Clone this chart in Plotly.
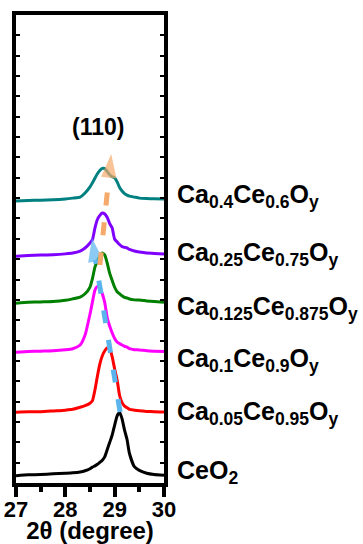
import plotly.graph_objects as go

# 2-theta grid (degrees) shared by all patterns
two_theta = [27.0, 27.25, 27.5, 27.75, 28.0, 28.15, 28.3, 28.4, 28.5, 28.55, 28.6, 28.65,
             28.7, 28.75, 28.8, 28.85, 28.9, 28.95, 29.0, 29.05, 29.1, 29.15, 29.2, 29.25,
             29.3, 29.4, 29.5, 29.65, 29.8, 30.0]

# offset intensities (a.u.)
ceo2 = [0.36, 0.40, 0.42, 0.45, 0.48, 0.50, 0.54, 0.60, 0.70, 0.78, 0.84, 0.92,
        1.02, 1.12, 1.30, 1.65, 2.00, 2.36, 2.85, 3.30, 3.48, 3.15, 2.60, 2.15,
        1.45, 0.80, 0.62, 0.48, 0.42, 0.38]
ca005 = [3.48, 3.50, 3.50, 3.54, 3.58, 3.62, 3.72, 3.80, 3.92, 4.05, 4.57, 5.25,
         5.85, 6.25, 6.50, 6.64, 6.62, 6.20, 5.60, 5.06, 4.30, 3.95, 3.78, 3.70,
         3.62, 3.58, 3.55, 3.52, 3.50, 3.49]
ca01 = [6.42, 6.46, 6.48, 6.50, 6.55, 6.60, 6.78, 7.27, 8.30, 8.90, 9.48, 9.66,
        9.62, 9.30, 8.85, 8.10, 7.70, 7.37, 7.10, 6.93, 6.85, 6.78, 6.72, 6.68,
        6.60, 6.55, 6.54, 6.50, 6.48, 6.46]
ca0125 = [8.84, 8.88, 8.90, 8.92, 8.98, 9.05, 9.14, 9.30, 9.63, 10.05, 10.61, 10.90,
          11.15, 11.30, 11.20, 10.80, 10.30, 9.95, 9.62, 9.40, 9.30, 9.20, 9.12, 9.09,
          9.04, 9.00, 8.99, 8.95, 8.92, 8.88]
ca025 = [11.14, 11.18, 11.20, 11.22, 11.26, 11.30, 11.40, 11.55, 11.80, 11.96, 12.53, 12.95,
         13.15, 13.27, 13.22, 13.05, 12.75, 12.53, 11.98, 11.85, 11.72, 11.62, 11.58, 11.55,
         11.48, 11.40, 11.35, 11.30, 11.28, 11.25]
ca04 = [13.86, 13.88, 13.90, 13.92, 13.96, 14.00, 14.05, 14.25, 14.55, 14.76, 14.98, 15.20,
        15.36, 15.46, 15.45, 15.30, 15.15, 15.05, 14.99, 14.80, 14.52, 14.35, 14.22, 14.15,
        14.10, 14.05, 14.00, 13.98, 13.97, 13.96]

series = [ceo2, ca005, ca01, ca0125, ca025, ca04]
series_colors = ["#000000", "#FF0000", "#FF00FF", "#008000", "#7F00FF", "#008080"]
series_labels = ["CeO<sub>2</sub>",
                 "Ca<sub>0.05</sub>Ce<sub>0.95</sub>O<sub>y</sub>",
                 "Ca<sub>0.1</sub>Ce<sub>0.9</sub>O<sub>y</sub>",
                 "Ca<sub>0.125</sub>Ce<sub>0.875</sub>O<sub>y</sub>",
                 "Ca<sub>0.25</sub>Ce<sub>0.75</sub>O<sub>y</sub>",
                 "Ca<sub>0.4</sub>Ce<sub>0.6</sub>O<sub>y</sub>"]
label_y = [0.52, 3.42, 6.05, 8.62, 11.25, 14.12]

# peak-shift trend arrows (tail -> tip)
blue_arrow_x = [29.11, 28.54]
blue_arrow_y = [3.49, 12.04]
orange_arrow_x = [28.70, 28.93]
orange_arrow_y = [10.71, 16.17]

x_ticks = [27, 28, 29, 30]

FONT = "Liberation Sans, Arial"

fig = go.Figure()
for ys, c in zip(series, series_colors):
    fig.add_trace(go.Scatter(x=two_theta, y=ys, mode="lines",
                             line=dict(color=c, width=3, shape="spline", smoothing=0.5),
                             showlegend=False, hoverinfo="skip"))

for ax_, ay_, c in [(blue_arrow_x, blue_arrow_y, "#5AB4EE"),
                    (orange_arrow_x, orange_arrow_y, "#F5A96B")]:
    fig.add_trace(go.Scatter(x=ax_, y=ay_, mode="lines+markers",
                             line=dict(color=c, width=5, dash="13px,17px"),
                             marker=dict(symbol="arrow", size=[0, 25], color=c,
                                         angleref="previous", line=dict(width=0)),
                             showlegend=False, hoverinfo="skip"))

for lab, ly in zip(series_labels, label_y):
    fig.add_annotation(x=1.074, xref="paper", y=ly, yref="y", text="<b>" + lab + "</b>",
                       showarrow=False, xanchor="left", yanchor="middle",
                       font=dict(size=25, color="black", family=FONT))

fig.add_annotation(x=28.66, y=17.5, xref="x", yref="y", text="<b>(110)</b>", showarrow=False,
                   font=dict(size=23, color="black", family=FONT))

fig.update_xaxes(range=[27, 30], tickvals=x_ticks, ticktext=["<b>%d</b>" % t for t in x_ticks],
                 ticks="outside", ticklen=10, tickwidth=4, tickcolor="black",
                 minor=dict(dtick=0.5, ticks="outside", ticklen=5, tickwidth=4, tickcolor="black"),
                 showline=True, linewidth=4, linecolor="black", mirror=True,
                 showgrid=False, zeroline=False, automargin=False, ticklabelstandoff=-6,
                 tickfont=dict(size=22, color="black", family=FONT),
                 title=dict(text="<b>2θ (degree)</b>", standoff=8,
                            font=dict(size=24, color="black", family=FONT)))
fig.update_yaxes(range=[0, 23], dtick=1, ticks="inside", ticklen=4, tickwidth=2, tickcolor="black",
                 showticklabels=False, showline=True, linewidth=4, linecolor="black",
                 mirror="ticks", showgrid=False, zeroline=False, automargin=False)

fig.update_layout(width=363, height=544, margin=dict(l=16, r=199, t=15, b=61, autoexpand=False),
                  plot_bgcolor="white", paper_bgcolor="white")

fig.write_html("out.html", config={"displayModeBar": False},
               post_script="document.body.style.margin='0px';")
